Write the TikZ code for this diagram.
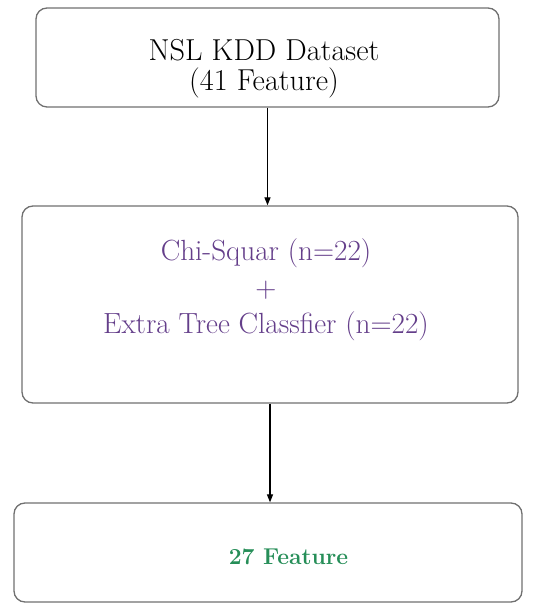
\documentclass[tikz,border=0pt]{standalone}
\usepackage{tikz}
\usetikzlibrary{arrows.meta}
\definecolor{boxgray}{RGB}{112,112,112}
\definecolor{chipurple}{RGB}{100,62,138}
\definecolor{featgreen}{RGB}{38,142,88}

\begin{document}
\begin{tikzpicture}[
  x=1bp, y=1bp,
  box/.style={draw=boxgray, line width=1.3bp, rounded corners=11bp, inner sep=0pt},
  txt/.style={align=center, inner sep=0pt},
  flow/.style={-{Triangle[length=8bp,width=6bp]}, line width=1.2bp},
]
\useasboundingbox (0,0) rectangle (540,604);

\node[box, minimum width=463bp, minimum height=99bp]  (D) at (267.5,546.5) {};
\node[box, minimum width=496bp, minimum height=197bp] (C) at (270,299.5)   {};
\node[box, minimum width=508bp, minimum height=99bp]  (F) at (268,51.5)    {};

\node[txt, font=\fontsize{30.4}{30}\selectfont] (Dtxt) at (264,535) {NSL KDD Dataset\\(41 Feature)};
\node[txt, font=\fontsize{29.3}{36.5}\selectfont, text=chipurple] (Ctxt) at (266,314)
  {Chi-Squar (n=22)\\+\\Extra Tree Classfier (n=22)};
\node[txt, font=\fontsize{23}{24}\selectfont\bfseries, text=featgreen] (Ftxt) at (288.5,47) {27 Feature};

\draw[flow] (D.south) -- (D.south |- C.north);
\draw[flow] (C.south) -- (C.south |- F.north);
\end{tikzpicture}
\end{document}
